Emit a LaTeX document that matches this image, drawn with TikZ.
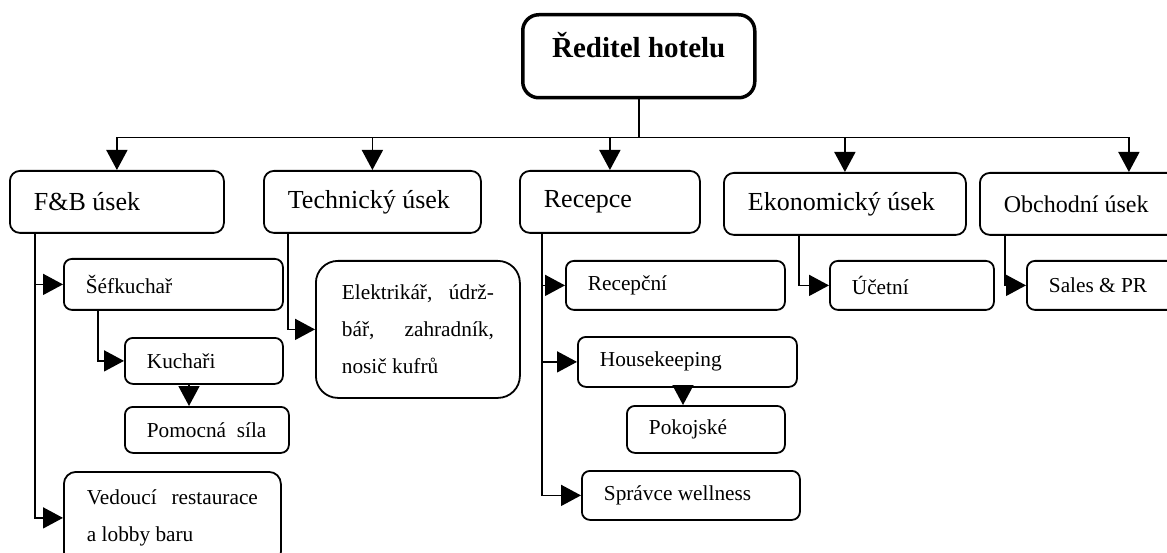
\documentclass[tikz,border=0pt]{standalone}
\usepackage{fontspec}
\setmainfont{Liberation Serif}
\usetikzlibrary{arrows.meta}

\begin{document}
\begin{tikzpicture}
[x=1pt,y=-1pt,
  boxdecorate/.style={draw,line width=1.8pt,rounded corners=8pt,anchor=north west,inner ysep=0pt},%
  deptdecorate/.style={boxdecorate,rounded corners=10pt,inner xsep=24pt,minimum height=62pt,
    align=flush left,font=\fontsize{26}{31}\selectfont},%
  subdecorate/.style={boxdecorate,inner xsep=22pt,align=flush left,font=\fontsize{21.3}{26}\selectfont},%
  linedecorate/.style={-{Triangle[length=20pt,width=21pt]},line width=1.7pt},%
  elbow/.style={to path={|- (\tikztotarget) \tikztonodes}}]
\useasboundingbox (0,0) rectangle (1167,553);
\clip (0,0) rectangle (1167,553);
%% head
\node (director) at (521,13) [boxdecorate,line width=3.5pt,rounded corners=16pt,inner xsep=0pt,
  minimum width=232pt,text height=43pt,text depth=40pt,
  font=\fontsize{29}{35}\selectfont\bfseries] {Ředitel hotelu};
%% departments
\foreach \nodename/\x/\y/\w/\txt in {fb/9/170/166/F\&B úsek, tech/263/170/169/Technický úsek,
  rec/519/170/132/Recepce, eko/723/172/194/Ekonomický úsek} {
  \node (\nodename) at (\x,\y) [deptdecorate,text width=\w pt] {\txt};
}
\node (obch) at (979,172) [deptdecorate,text width=250pt,font=\fontsize{24}{29}\selectfont] {Obchodní úsek};
%% staff
\foreach \nodename/\x/\y/\w/\h/\txt in {sef/63/258/175/51/Šéfkuchař, kuch/124/337/114/46/Kuchaři,
  pomoc/124/406/120/46/Pomocná~~síla, recep/565/260/175/49/Recepční,
  house/577/336/175/50/Housekeeping, pokoj/626/405/114/47/Pokojské,
  sprav/581/470/174/49/Správce wellness, ucet/829/260/120/49/Účetní,
  sales/1026/260/156/49/Sales \& PR} {
  \node (\nodename) at (\x,\y) [subdecorate,text width=\w pt,minimum height=\h pt] {\txt};
}
\node (elek) at (315,260) [subdecorate,rounded corners=22pt,inner xsep=26pt,text width=152pt,
  minimum height=137pt,align=justify,font=\fontsize{21.3}{37}\selectfont]
  {Elektrikář, údrž-\linebreak bář, zahradník,\linebreak nosič kufrů};
\node (ved) at (63,471) [subdecorate,rounded corners=12pt,inner xsep=23pt,text width=171pt,
  minimum height=92pt,align=justify,font=\fontsize{21.3}{37}\selectfont]
  {Vedoucí restaurace\linebreak a lobby baru};
%% junctions
\coordinate (bus) at ([yshift=-38pt]director.south);
\foreach \spinename/\nodename/\dx in {fbs/fb/26, techs/tech/25, recs/rec/23, ekos/eko/76,
  obchs/obch/26, sefs/sef/35, kuchs/kuch/65, houses/house/106} {
  \coordinate (\spinename) at ([xshift=\dx pt]\nodename.south west);
}
%% edges or lines
\draw[line width=1.7pt] (director.south) -- (bus);
\draw[line width=1.7pt] (fb.north |- bus) -- (obch.north |- bus);
\path
\foreach \nodename in {fb, tech, rec, eko, obch} {
  (\nodename.north |- bus) edge[linedecorate] (\nodename.north)
};
\path
\foreach \startnode/\endnode in {fbs/sef, fbs/ved, sefs/kuch, techs/elek, recs/recep,
  recs/house, recs/sprav, ekos/ucet, obchs/sales} {
  (\startnode) edge[linedecorate,elbow] (\endnode.west)
};
\path
\foreach \startnode/\endnode in {kuchs/pomoc, houses/pokoj} {
  (\startnode) edge[linedecorate] (\startnode |- \endnode.north)
};
\end{tikzpicture}
\end{document}
